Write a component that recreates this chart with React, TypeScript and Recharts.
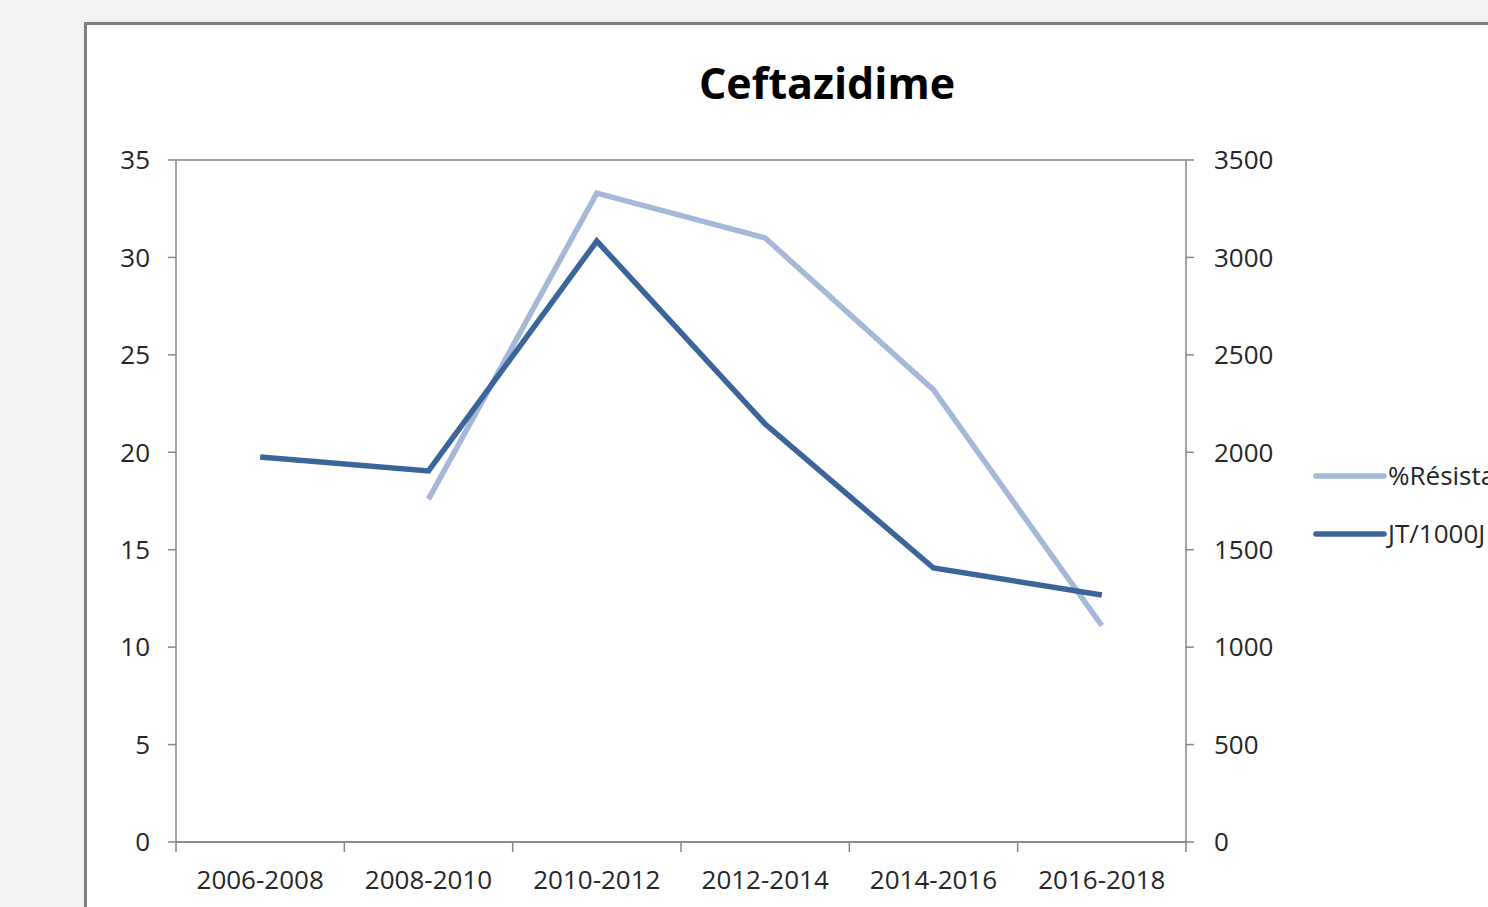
import React from "react";
import { LineChart, Line, XAxis, YAxis, CartesianGrid } from "recharts";

const categories = ["2006-2008", "2008-2010", "2010-2012", "2012-2014", "2014-2016", "2016-2018"];
const resistance: (number | null)[] = [null, 17.6, 33.3, 31.0, 23.2, 11.1];
const jt: number[] = [1976, 1904, 3084, 2145, 1406, 1268];
const leftTicks = [0, 5, 10, 15, 20, 25, 30, 35];
const rightTicks = [0, 500, 1000, 1500, 2000, 2500, 3000, 3500];
const seriesNames = ["%Résistance", "JT/1000J"];

const data = categories.map((c, i) => ({ cat: c, res: resistance[i], jt: jt[i] }));

const FONT = "'Open Sans', sans-serif";
const GRID = "#868686";
const LIGHT = "#a5b8d8";
const DARK = "#3b6499";

const PLOT_W = 1010;
const BW = PLOT_W / categories.length;

const XTick = (props: any) => {
  const { x, y, payload, index } = props;
  const axisY = y - 10;
  return (
    <g>
      <line x1={x - BW / 2} x2={x - BW / 2} y1={axisY} y2={axisY + 10} stroke={GRID} strokeWidth={1.5} />
      {index === categories.length - 1 && (
        <line x1={x + BW / 2} x2={x + BW / 2} y1={axisY} y2={axisY + 10} stroke={GRID} strokeWidth={1.5} />
      )}
      <text x={x} y={y + 37} textAnchor="middle" fontFamily={FONT} fontSize={26} fill="#262626">
        {payload.value}
      </text>
    </g>
  );
};

export default function App() {
  return (
    <div style={{ position: "absolute", left: 0, top: 0, width: 1488, height: 907, overflow: "hidden", background: "#f2f2f2" }}>
      <div style={{ position: "absolute", left: 84, top: 22, width: 1500, height: 1000, background: "#fff", border: "3px solid #7f7f7f", boxSizing: "border-box" }} />
      <div style={{ position: "absolute", left: 0, top: 0 }}>
        <LineChart width={1488} height={907} data={data} margin={{ top: 160, right: 202, bottom: 0, left: 106 }}>
          <text x={827} y={99} textAnchor="middle" fontFamily={FONT} fontWeight={700} fontSize={43} fill="#000">Ceftazidime</text>
          <CartesianGrid vertical={false} stroke={GRID} strokeWidth={1.5} />
          <XAxis dataKey="cat" scale="band" height={65} axisLine={{ stroke: GRID, strokeWidth: 1.5 }} tickLine={false} tickSize={0} tickMargin={10} tick={<XTick />} interval={0} />
          <YAxis yAxisId="left" orientation="left" width={70} domain={[0, 35]} ticks={leftTicks} interval={0}
            axisLine={{ stroke: GRID, strokeWidth: 1.5 }} tickLine={{ stroke: GRID, strokeWidth: 1.5 }} tickSize={8} tickMargin={18}
            tick={{ fontFamily: FONT, fontSize: 26, fill: "#262626" }} />
          <YAxis yAxisId="right" orientation="right" width={100} domain={[0, 3500]} ticks={rightTicks} interval={0}
            axisLine={{ stroke: GRID, strokeWidth: 1.5 }} tickLine={{ stroke: GRID, strokeWidth: 1.5 }} tickSize={8} tickMargin={20}
            tick={{ fontFamily: FONT, fontSize: 26, fill: "#262626", textAnchor: "start" }} />
          <Line yAxisId="left" dataKey="res" name={seriesNames[0]} stroke={LIGHT} strokeWidth={5.5} dot={false} isAnimationActive={false} connectNulls={false} />
          <Line yAxisId="right" dataKey="jt" name={seriesNames[1]} stroke={DARK} strokeWidth={5.5} dot={false} isAnimationActive={false} />
          <g>
            <line x1={1316} x2={1384} y1={476} y2={476} stroke={LIGHT} strokeWidth={5.5} strokeLinecap="round" />
            <text x={1388} y={485} fontFamily={FONT} fontSize={26} fill="#262626">{seriesNames[0]}</text>
            <line x1={1316} x2={1384} y1={534} y2={534} stroke={DARK} strokeWidth={5.5} strokeLinecap="round" />
            <text x={1388} y={543} fontFamily={FONT} fontSize={26} fill="#262626">{seriesNames[1]}</text>
          </g>
        </LineChart>
      </div>
    </div>
  );
}
